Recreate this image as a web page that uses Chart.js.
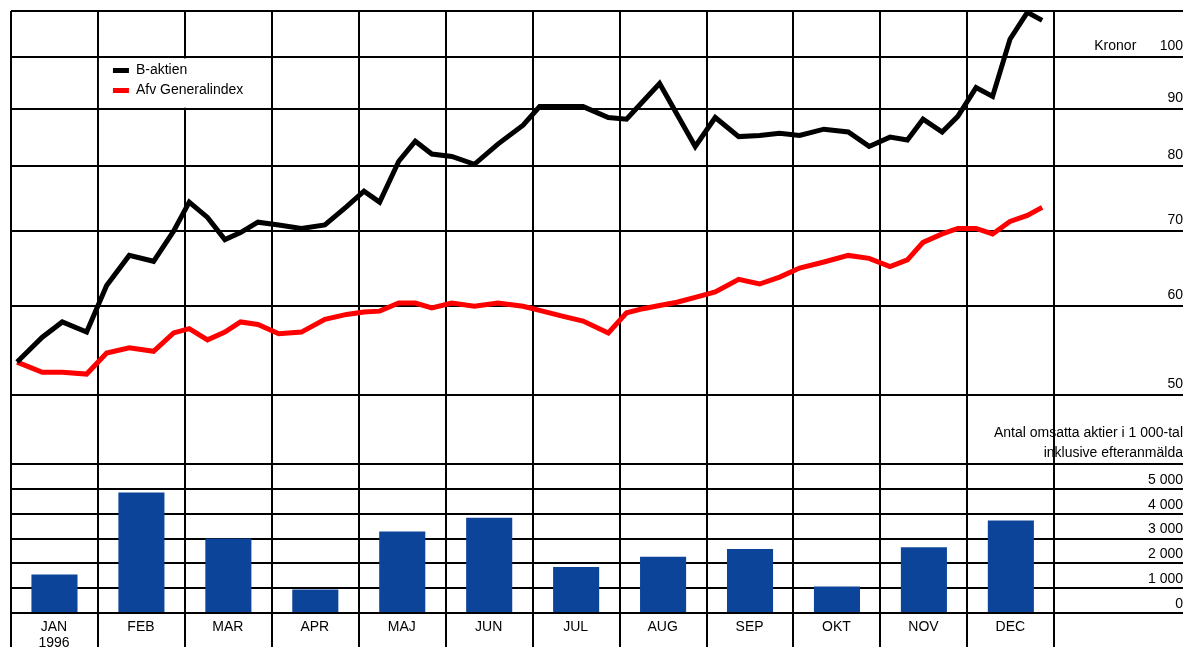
<!DOCTYPE html>
<html lang="sv">
<head>
<meta charset="UTF-8">
<title>B-aktien 1996</title>
<script src="https://cdn.jsdelivr.net/npm/chart.js@4.4.0/dist/chart.umd.min.js"></script>
<style>
  html, body { margin: 0; padding: 0; background: #fff; }
  #wrap { width: 1187px; height: 647px; position: relative; }
</style>
</head>
<body>
<div id="wrap"><canvas id="kursChart"></canvas></div>
<script>
// --- data ---
const monthLabels = ['JAN', 'FEB', 'MAR', 'APR', 'MAJ', 'JUN', 'JUL', 'AUG', 'SEP', 'OKT', 'NOV', 'DEC'];
const yearLabel = '1996';

// position of each weekly reading, in months from 1 Jan
const weekPos = [0.07, 0.36, 0.59, 0.87, 1.10, 1.36, 1.64, 1.87, 2.05, 2.26,
                 2.46, 2.64, 2.84, 3.08, 3.34, 3.61, 3.86, 4.06, 4.24, 4.46,
                 4.65, 4.84, 5.07, 5.33, 5.60, 5.89, 6.08, 6.34, 6.58, 6.87,
                 7.08, 7.27, 7.46, 7.66, 7.87, 8.10, 8.37, 8.61, 8.84, 9.07,
                 9.35, 9.63, 9.87, 10.11, 10.31, 10.49, 10.71, 10.89, 11.10, 11.29,
                 11.49, 11.69, 11.86];

const bAktien = [53.5, 56.3, 58.1, 56.9, 62.6, 66.6, 65.8, 70.0, 74.3, 72.0,
                 68.8, 69.8, 71.3, 70.9, 70.4, 70.9, 73.6, 76.0, 74.3, 80.8,
                 84.2, 82.0, 81.6, 80.3, 83.7, 87.0, 90.4, 90.4, 90.4, 88.4,
                 88.1, 91.4, 94.8, 89.0, 83.3, 88.4, 85.0, 85.2, 85.6, 85.2,
                 86.3, 85.8, 83.3, 84.9, 84.4, 88.1, 85.8, 88.6, 94.0, 92.3,
                 103.8, 109.7, 107.9];

const afvIndex = [53.5, 52.4, 52.4, 52.2, 54.5, 55.1, 54.7, 56.8, 57.3, 56.0,
                  56.9, 58.1, 57.8, 56.7, 56.9, 58.4, 59.0, 59.3, 59.4, 60.4,
                  60.4, 59.8, 60.4, 60.0, 60.4, 60.0, 59.5, 58.8, 58.2, 56.8,
                  59.2, 59.7, 60.1, 60.5, 61.1, 61.8, 63.4, 62.8, 63.7, 64.9,
                  65.7, 66.6, 66.2, 65.1, 66.0, 68.4, 69.6, 70.4, 70.4, 69.6,
                  71.4, 72.3, 73.5];

// antal omsatta aktier, 1 000-tal
const volume = [1550, 4850, 3000, 950, 3280, 3840, 1850, 2270, 2580, 1070, 2650, 3720];

const kronorTicks = [50, 60, 70, 80, 90, 100];
const volumeTicks = [0, 1000, 2000, 3000, 4000, 5000];
const volumeNote = ['Antal omsatta aktier i 1 000-tal', 'inklusive efteranmälda', ''];

// axis ranges
const kronorMin = 43.4;
const kronorMax = 110;
const volumeMax = 6000;
const monthsShown = 13.48;   // 12 months plus the label strip on the right

// legend sits in the cell FEB-MAR / 100-90
const legendCell = { from: 1, to: 3, top: 100, bottom: 90 };

function thousands(v) {
    return String(v).replace(/\B(?=(\d{3})+(?!\d))/g, ' ');
}

// white panel behind the legend, and legend moved into its cell
const legendPanel = {
    id: 'legendPanel',
    afterLayout(chart) {
        const x = chart.scales.x;
        const y = chart.scales.yKr;
        const cell = {
            left: x.getPixelForValue(legendCell.from),
            right: x.getPixelForValue(legendCell.to),
            top: y.getPixelForValue(legendCell.top),
            bottom: y.getPixelForValue(legendCell.bottom)
        };
        chart.$legendCell = cell;
        const legend = chart.legend;
        legend.left = cell.left + 9;
        legend.right = cell.right;
        legend.top = cell.top;
        legend.bottom = cell.bottom;
        legend.width = legend.right - legend.left;
        legend.height = legend.bottom - legend.top;
    },
    beforeDatasetsDraw(chart) {
        const c = chart.$legendCell;
        const ctx = chart.ctx;
        ctx.save();
        ctx.fillStyle = '#fff';
        ctx.fillRect(c.left + 1, c.top + 1, c.right - c.left - 2, c.bottom - c.top - 2);
        ctx.restore();
        chart.legend.draw();
    }
};

Chart.defaults.font.family = "'Liberation Sans', Arial, sans-serif";
Chart.defaults.font.size = 14;
Chart.defaults.color = '#000';

new Chart(document.getElementById('kursChart'), {
    type: 'bar',
    data: {
        datasets: [
            {
                type: 'line',
                label: 'B-aktien',
                data: bAktien.map((v, i) => ({ x: weekPos[i], y: v })),
                borderColor: '#000',
                backgroundColor: '#000',
                borderWidth: 5,
                pointRadius: 0,
                yAxisID: 'yKr'
            },
            {
                type: 'line',
                label: 'Afv Generalindex',
                data: afvIndex.map((v, i) => ({ x: weekPos[i], y: v })),
                borderColor: '#ff0000',
                backgroundColor: '#ff0000',
                borderWidth: 5,
                pointRadius: 0,
                yAxisID: 'yKr'
            },
            {
                type: 'bar',
                label: 'Omsättning',
                data: volume.map((v, i) => ({ x: i + 0.5, y: v })),
                backgroundColor: '#0c4499',
                barPercentage: 0.53,
                categoryPercentage: 1,
                yAxisID: 'yVol'
            }
        ]
    },
    options: {
        responsive: true,
        maintainAspectRatio: false,
        animation: false,
        events: [],
        // the month strip runs off the bottom edge, as in the original
        layout: { padding: { left: 11, top: 11, right: 4, bottom: -8 } },
        plugins: {
            tooltip: { enabled: false },
            legend: {
                position: 'chartArea',
                align: 'start',
                labels: {
                    boxWidth: 16,
                    boxHeight: 5,
                    padding: 6,
                    color: '#000',
                    font: { size: 14 },
                    generateLabels(chart) {
                        return Chart.defaults.plugins.legend.labels.generateLabels(chart)
                            .filter(item => chart.data.datasets[item.datasetIndex].type === 'line')
                            .map(item => Object.assign(item, { fillStyle: item.strokeStyle, lineWidth: 0 }));
                    }
                }
            }
        },
        scales: {
            x: {
                type: 'linear',
                min: 0,
                max: monthsShown,
                offset: false,
                afterBuildTicks: scale => {
                    scale.ticks = monthLabels.concat(['']).map((m, i) => ({ value: i }));
                },
                grid: { color: '#000', lineWidth: 2, tickLength: 34, offset: false },
                border: { display: false },
                ticks: {
                    autoSkip: false,
                    maxRotation: 0,
                    padding: -28,
                    labelOffset: 43,
                    font: { size: 14, lineHeight: 16 / 14 },
                    // spare lines keep the label strip as tall as the tick marks
                    callback: (v, i) => i === 0 ? [monthLabels[0], yearLabel, '', ''] : (monthLabels[i] || '')
                }
            },
            yKr: {
                type: 'logarithmic',
                position: 'right',
                stack: 'kurs',
                stackWeight: 453,
                min: kronorMin,
                max: kronorMax,
                beginAtZero: false,
                afterBuildTicks: scale => {
                    scale.ticks = [kronorMin].concat(kronorTicks, [kronorMax]).map(v => ({ value: v }));
                },
                grid: { color: '#000', lineWidth: 2, drawTicks: false },
                border: { display: false },
                ticks: {
                    mirror: true,
                    padding: 0,
                    labelOffset: -11,
                    autoSkip: false,
                    font: { size: 14, lineHeight: 1.4 },
                    callback: v => {
                        if (v === kronorMin) return volumeNote;
                        if (v === kronorMax) return '';
                        if (v === 100) return 'Kronor      100';
                        return String(v);
                    }
                }
            },
            yVol: {
                type: 'linear',
                position: 'right',
                stack: 'kurs',
                stackWeight: 149,
                min: 0,
                max: volumeMax,
                afterBuildTicks: scale => {
                    scale.ticks = volumeTicks.concat([volumeMax]).map(v => ({ value: v }));
                },
                grid: { color: '#000', lineWidth: 2, drawTicks: false },
                border: { display: false },
                ticks: {
                    mirror: true,
                    padding: 0,
                    labelOffset: -9,
                    autoSkip: false,
                    font: { size: 14, lineHeight: 1.2 },
                    callback: v => v === volumeMax ? '' : thousands(v)
                }
            }
        }
    },
    plugins: [legendPanel]
});
</script>
</body>
</html>
